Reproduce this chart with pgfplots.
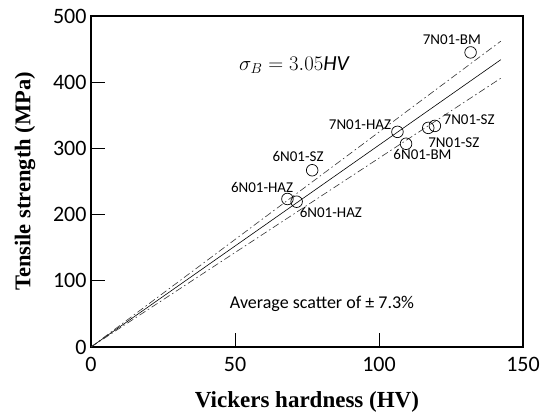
\documentclass[border=0pt]{standalone}
\usepackage{fontspec}
\setmainfont{Carlito}
\newfontfamily\tnr{Liberation Serif}
\usepackage{pgfplots}
\pgfplotsset{compat=1.18}
\begin{document}
\begin{tikzpicture}
\begin{axis}[
  name=ax,
  scale only axis,
  width=432pt, height=331pt,
  xmin=0, xmax=150, ymin=0, ymax=500,
  xtick={0,50,100,150}, ytick={0,100,200,300,400,500},
  tick pos=left, tick align=inside,
  major tick length=14pt,
  every tick/.style={black, line width=0.8pt},
  axis line style={line width=2.5pt, line join=miter},
  /pgf/number format/assume math mode=true,
  ticklabel style={font=\fontsize{22}{26}\selectfont},
  xticklabel style={yshift=-7pt},
  yticklabel style={xshift=-1pt},
  clip=false,
]
\addplot[black, line width=0.6pt] coordinates {(0,0) (142.3,434)};
\addplot[black!80, line width=0.6pt, dash pattern=on 7pt off 3pt on 1.5pt off 3pt] coordinates {(0,0) (142.3,462)};
\addplot[black!80, line width=0.6pt, dash pattern=on 7pt off 3pt on 1.5pt off 3pt] coordinates {(0,0) (142.3,406)};
\addplot[only marks, mark=o, mark size=5.8pt, mark options={line width=0.7pt, black}] coordinates {
  (131.8,445) (106.4,325) (117.1,331) (119.4,334) (109.4,307) (76.8,267) (68.2,223.6) (71.4,219.5)
};
\begin{scope}[every node/.style={font=\fontsize{15}{18}\selectfont, inner sep=0pt}]
\node at (axis cs:125.3,464.2) {7N01-BM};
\node at (axis cs:93.4,335.7) {7N01-HAZ};
\node at (axis cs:131.3,343.3) {7N01-SZ};
\node at (axis cs:126.0,308.5) {7N01-SZ};
\node at (axis cs:115.1,290.3) {6N01-BM};
\node at (axis cs:71.9,287.3) {6N01-SZ};
\node at (axis cs:59.4,240.4) {6N01-HAZ};
\node at (axis cs:83.3,202.6) {6N01-HAZ};
\end{scope}
\node[font=\fontsize{21.5}{24}\selectfont, inner sep=0pt] at (axis cs:70.5,426) {$\sigma_B = 3.05\mathit{HV}$};
\node[font=\fontsize{18}{21}\selectfont, inner sep=0pt] at (axis cs:80.2,65) {Average scatter of ± 7.3\%};
\end{axis}
\node[rotate=90, font=\tnr\bfseries\fontsize{22.5}{26}\selectfont, inner sep=0pt] at ([xshift=-66pt]ax.west) {Tensile strength (MPa)};
\node[font=\tnr\bfseries\fontsize{23}{26}\selectfont, inner sep=0pt] at ([yshift=-55pt]ax.south) {Vickers hardness (HV)};
\path ([shift={(-91pt,-70pt)}]ax.south west) rectangle ([shift={(27pt,16pt)}]ax.north east);
\end{tikzpicture}
\end{document}
